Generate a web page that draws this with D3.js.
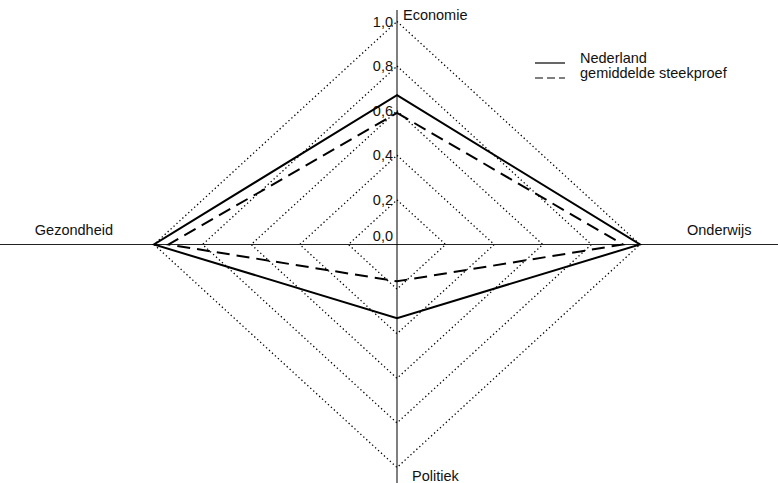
<!DOCTYPE html>
<html><head><meta charset="utf-8">
<script src="https://cdn.jsdelivr.net/npm/d3@7/dist/d3.min.js"></script>
<style>body{margin:0;background:#fff}text{font-family:"Liberation Sans",Arial,Helvetica,sans-serif;font-size:14.5px;fill:#111}</style>
</head><body><svg id="c" width="778" height="483"></svg>
<script>
const axesNames = ["Economie", "Onderwijs", "Politiek", "Gezondheid"];
const seriesNames = ["Nederland", "gemiddelde steekproef"];
const nederland = [0.67, 1.0, 0.33, 1.0];
const gemiddelde = [0.59, 0.93, 0.165, 0.94];
const tickValues = [0.0, 0.2, 0.4, 0.6, 0.8, 1.0];

const svg = d3.select("#c");
const cx = 397, cy = 244.5;
const rx = d3.scaleLinear().domain([0, 1]).range([0, 243]);
const ry = d3.scaleLinear().domain([0, 1]).range([0, 223]);
const dirs = [[0, -1], [1, 0], [0, 1], [-1, 0]];
const pt = (v, i) => [cx + dirs[i][0] * rx(v), cy + dirs[i][1] * ry(v)];
const loc = d3.formatLocale({decimal: ",", thousands: ".", grouping: [3], currency: ["", ""]});
const fmt = loc.format(".1f");
const line = d3.line().curve(d3.curveLinearClosed);

// grid diamonds
svg.append("g").selectAll("path").data(tickValues.filter(t => t > 0)).join("path")
  .attr("d", t => line(dirs.map((_, i) => pt(t, i))))
  .attr("fill", "none").attr("stroke", "#000").attr("stroke-width", 1.3)
  .attr("stroke-dasharray", "1.3,2.7");

// axes
svg.append("line").attr("x1", 0).attr("x2", 778).attr("y1", cy).attr("y2", cy)
  .attr("stroke", "#222").attr("stroke-width", 1);
svg.append("line").attr("x1", cx).attr("x2", cx).attr("y1", 10).attr("y2", 483)
  .attr("stroke", "#000").attr("stroke-width", 1);

// tick labels
svg.append("g").selectAll("text").data(tickValues).join("text")
  .attr("x", cx - 4).attr("y", t => pt(t, 0)[1] + (t === 0 ? -4 : 5))
  .attr("text-anchor", "end").text(t => fmt(t));

// axis labels
const labPos = [[403, 20, "start"], [687, 235, "start"], [412, 481, "start"], [113, 235, "end"]];
svg.append("g").selectAll("text").data(axesNames).join("text")
  .attr("x", (d, i) => labPos[i][0]).attr("y", (d, i) => labPos[i][1])
  .attr("text-anchor", (d, i) => labPos[i][2]).text(d => d);

// series
const series = [nederland, gemiddelde];
const dashes = [null, "13,7"];
svg.append("g").selectAll("path").data(series).join("path")
  .attr("d", s => line(s.map((v, i) => pt(v, i))))
  .attr("fill", "none").attr("stroke", "#000").attr("stroke-width", 2)
  .attr("stroke-linejoin", "miter")
  .attr("stroke-dasharray", (d, i) => dashes[i]);

// legend
const lg = svg.append("g").attr("transform", "translate(535,63)");
seriesNames.forEach((n, i) => {
  lg.append("line").attr("x1", 0).attr("x2", 30).attr("y1", i * 15).attr("y2", i * 15)
    .attr("stroke", "#000").attr("stroke-width", 1.2).attr("stroke-dasharray", i ? "8,4" : null);
  lg.append("text").attr("x", 45).attr("y", i * 15 + 0).text(n);
});
</script></body></html>
